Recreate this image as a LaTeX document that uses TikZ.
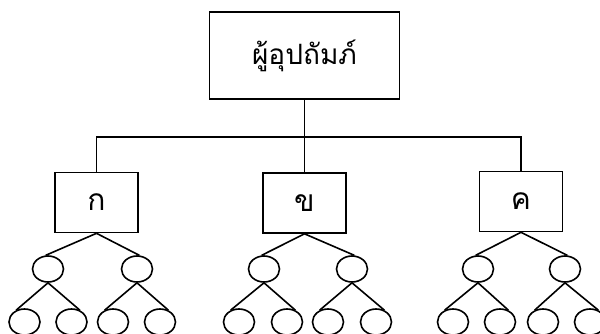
\documentclass[tikz,border=0pt]{standalone}
\usepackage{fontspec}
\newfontfamily\thaifont[Script=Thai]{Loma}
\usetikzlibrary{shapes.geometric}
\tikzset{
  box/.style={draw, line width=1.6pt, inner sep=0pt, minimum width=83pt, minimum height=60pt,
    font=\thaifont\fontsize{30}{32}\selectfont},
  leaf/.style={draw, ellipse, line width=1.6pt, minimum width=31pt, minimum height=26pt, inner sep=0pt},
  link/.style={line width=1.6pt}
}

\begin{document}
\begin{tikzpicture}[x=1pt,y=-1pt]
   \useasboundingbox (0,0) rectangle (600,333);
   \clip (0,0) rectangle (600,333);
   \node[box, minimum width=190pt, minimum height=87pt, font=\thaifont\fontsize{28}{32}\selectfont] (top) at (304.5,55.5) {ผู้อุปถัมภ์};
   \node[box] (ka) at (96.5,202.5) {ก};
   \node[box] (kho) at (304.5,203) {ข};
   \node[box] (kho2) at (521,201.5) {ค};
   \coordinate (split) at (304.5,137);
   \draw[link] (top.south) -- (split);
   \draw[link] (ka.north) |- (split) -| (kho2.north);
   \draw[link] (split) -- (kho.north);

   \node[leaf] (ka1) at (48,269) {};
   \node[leaf] (ka2) at (137,269) {};
   \node[leaf] (ka11) at (24.5,322) {};
   \node[leaf] (ka12) at (71.5,322) {};
   \node[leaf] (ka21) at (113,322) {};
   \node[leaf] (ka22) at (160,322) {};
   \node[leaf] (kho1) at (264,269) {};
   \node[leaf] (kho2a) at (352,269) {};
   \node[leaf] (kho11) at (239,322) {};
   \node[leaf] (kho12) at (287,322) {};
   \node[leaf] (kho21) at (328,322) {};
   \node[leaf] (kho22) at (376,322) {};
   \node[leaf] (kha1) at (478,269) {};
   \node[leaf] (kha2) at (565,269) {};
   \node[leaf] (kha11) at (453,322) {};
   \node[leaf] (kha12) at (500,322) {};
   \node[leaf] (kha21) at (543,322) {};
   \node[leaf] (kha22) at (590,322) {};

   \draw[link] (ka.south) -- (ka1.100);
   \draw[link] (ka.south) -- (ka2.80);
   \draw[link] (ka1.south) -- (ka11.125);
   \draw[link] (ka1.south) -- (ka12.55);
   \draw[link] (ka2.south) -- (ka21.125);
   \draw[link] (ka2.south) -- (ka22.55);
   \draw[link] (kho.south) -- (kho1.100);
   \draw[link] (kho.south) -- (kho2a.80);
   \draw[link] (kho1.south) -- (kho11.125);
   \draw[link] (kho1.south) -- (kho12.55);
   \draw[link] (kho2a.south) -- (kho21.125);
   \draw[link] (kho2a.south) -- (kho22.55);
   \draw[link] (kho2.south) -- (kha1.100);
   \draw[link] (kho2.south) -- (kha2.80);
   \draw[link] (kha1.south) -- (kha11.125);
   \draw[link] (kha1.south) -- (kha12.55);
   \draw[link] (kha2.south) -- (kha21.125);
   \draw[link] (kha2.south) -- (kha22.55);
\end{tikzpicture}
\end{document}
